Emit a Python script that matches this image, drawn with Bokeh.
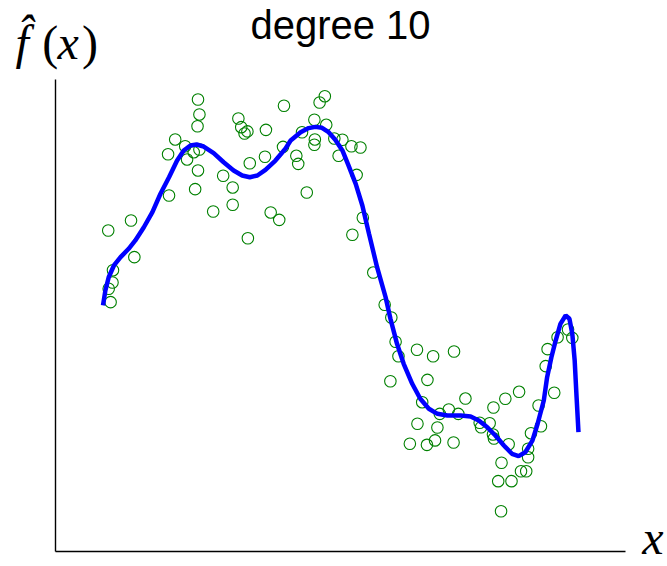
from bokeh.plotting import figure
from bokeh.models import Range1d, FixedTicker, Label
from bokeh.embed import file_html
from bokeh.resources import INLINE

# noisy samples
pts_x = [0.200, 0.203, 0.199, 0.381, 0.285, 0.291, 0.298, 0.304, 0.343, 0.152,
         0.173, 0.137, 0.191, 0.203, 0.177, 0.309, 0.341, 0.379, 0.200, 0.253,
         0.273, 0.194, 0.139, 0.273, 0.232, 0.353, 0.371, 0.011, 0.059, 0.305,
         0.066, 0.021, 0.020, 0.012, 0.016, 0.467, 0.456, 0.445, 0.470, 0.419,
         0.446, 0.445, 0.487, 0.504, 0.523, 0.542, 0.407, 0.411, 0.496, 0.534,
         0.429, 0.547, 0.525, 0.569, 0.593, 0.607, 0.616, 0.622, 0.661, 0.695,
         0.739, 0.605, 0.683, 0.672, 0.763, 0.709, 0.728, 0.748, 0.662, 0.704,
         0.646, 0.682, 0.699, 0.738, 0.793, 0.796, 0.814, 0.821, 0.823, 0.822,
         0.847, 0.876, 0.854, 0.839, 0.832, 0.860, 0.838, 0.880, 0.891, 0.895,
         0.895, 0.901, 0.922, 0.917, 0.950, 0.932, 0.936, 0.957, 0.979, 0.988]
pts_y = [1.373, 1.278, 1.203, 1.333, 1.252, 1.197, 1.157, 1.170, 1.180, 1.119,
         1.076, 1.025, 1.038, 1.055, 0.992, 0.968, 1.009, 1.072, 0.922, 0.888,
         0.814, 0.803, 0.763, 0.704, 0.661, 0.655, 0.608, 0.540, 0.604, 0.491,
         0.371, 0.288, 0.210, 0.170, 0.085, 1.394, 1.354, 1.244, 1.212, 1.165,
         1.119, 1.085, 1.125, 1.117, 1.076, 1.068, 1.015, 0.964, 1.015, 0.894,
         0.782, 0.621, 0.513, 0.273, 0.068, -0.013, -0.167, -0.259, -0.218, -0.259,
         -0.229, -0.418, -0.409, -0.551, -0.528, -0.625, -0.597, -0.625, -0.688, -0.712,
         -0.815, -0.822, -0.794, -0.807, -0.682, -0.710, -0.685, -0.756, -0.782, -0.585,
         -0.529, -0.485, -0.818, -0.936, -1.053, -1.053, -1.244, -0.990, -0.990, -0.847,
         -0.901, -0.748, -0.704, -0.572, -0.491, -0.322, -0.214, -0.138, -0.089, -0.142]

# degree 10 fit
fit_x = [0.000, 0.005, 0.012, 0.023, 0.037, 0.054, 0.068, 0.086, 0.104, 0.121,
         0.139, 0.156, 0.170, 0.184, 0.197, 0.212, 0.233, 0.254, 0.275, 0.293,
         0.309, 0.325, 0.342, 0.363, 0.384, 0.395, 0.416, 0.433, 0.447, 0.461,
         0.475, 0.489, 0.504, 0.517, 0.532, 0.546, 0.560, 0.577, 0.595, 0.605,
         0.619, 0.633, 0.651, 0.668, 0.686, 0.704, 0.725, 0.753, 0.774, 0.791,
         0.809, 0.826, 0.844, 0.861, 0.875, 0.889, 0.904, 0.915, 0.928, 0.935,
         0.944, 0.953, 0.963, 0.974, 0.982, 0.988, 0.993, 0.997, 1.001]
fit_y = [0.064, 0.159, 0.243, 0.318, 0.371, 0.424, 0.477, 0.561, 0.657, 0.774,
         0.879, 0.985, 1.049, 1.081, 1.087, 1.074, 1.032, 0.974, 0.922, 0.890,
         0.879, 0.890, 0.926, 0.985, 1.060, 1.112, 1.165, 1.191, 1.199, 1.193,
         1.165, 1.117, 1.049, 0.953, 0.837, 0.699, 0.519, 0.307, 0.116, -0.019,
         -0.180, -0.307, -0.434, -0.529, -0.593, -0.625, -0.636, -0.636, -0.642, -0.667,
         -0.710, -0.763, -0.826, -0.879, -0.894, -0.869, -0.795, -0.688, -0.540, -0.392,
         -0.265, -0.159, -0.053, 0.000, -0.021, -0.116, -0.286, -0.519, -0.742]

# axes box (data) and where it sits on the canvas (px)
x_lo, x_hi = -0.1, 1.1
y_lo, y_hi = -1.5, 1.5
W, H = 667, 566
left, right, top, bottom = 55, 625, 79, 551
sx = (right - left) / (x_hi - x_lo)
sy = (bottom - top) / (y_hi - y_lo)

p = figure(width=W, height=H, output_backend="svg", toolbar_location=None,
           x_range=Range1d(x_lo - left / sx, x_hi + (W - right) / sx),
           y_range=Range1d(y_lo - (H - bottom) / sy, y_hi + top / sy),
           min_border=0)
p.outline_line_color = None
p.grid.visible = False
p.background_fill_color = "white"
p.border_fill_color = "white"

p.yaxis.fixed_location = x_lo
p.yaxis.bounds = (y_lo, y_hi)
p.xaxis.fixed_location = y_lo
p.xaxis.bounds = (x_lo, x_hi)
for ax in (p.xaxis, p.yaxis):
    ax.ticker = FixedTicker(ticks=[])
    ax.major_tick_line_color = None
    ax.minor_tick_line_color = None
    ax.major_label_text_font_size = "0px"
    ax.axis_line_color = "black"
    ax.axis_line_width = 1.4

p.scatter(pts_x, pts_y, size=11.5, fill_color=None, line_color="#008000", line_width=1.1)
p.line(fit_x, fit_y, line_color="blue", line_width=4.5)

# title and math labels
p.add_layout(Label(x=0.5, y=1.845, text="degree 10", text_align="center", text_baseline="alphabetic",
                   text_font="Liberation Sans", text_font_size="40px", text_color="black"))
serif = dict(text_font="Liberation Serif", text_font_size="48px", text_baseline="alphabetic", text_color="black")
p.add_layout(Label(x=-0.184, y=1.735, text="f\u0302", text_font_style="italic", **serif))
p.add_layout(Label(x=-0.128, y=1.735, text="(", **serif))
p.add_layout(Label(x=-0.096, y=1.735, text="x", text_font_style="italic", **serif))
p.add_layout(Label(x=-0.044, y=1.735, text=")", **serif))
p.add_layout(Label(x=1.135, y=-1.41, text="x", text_font_style="italic", **serif))

open("out.html", "w").write(file_html(p, INLINE))
